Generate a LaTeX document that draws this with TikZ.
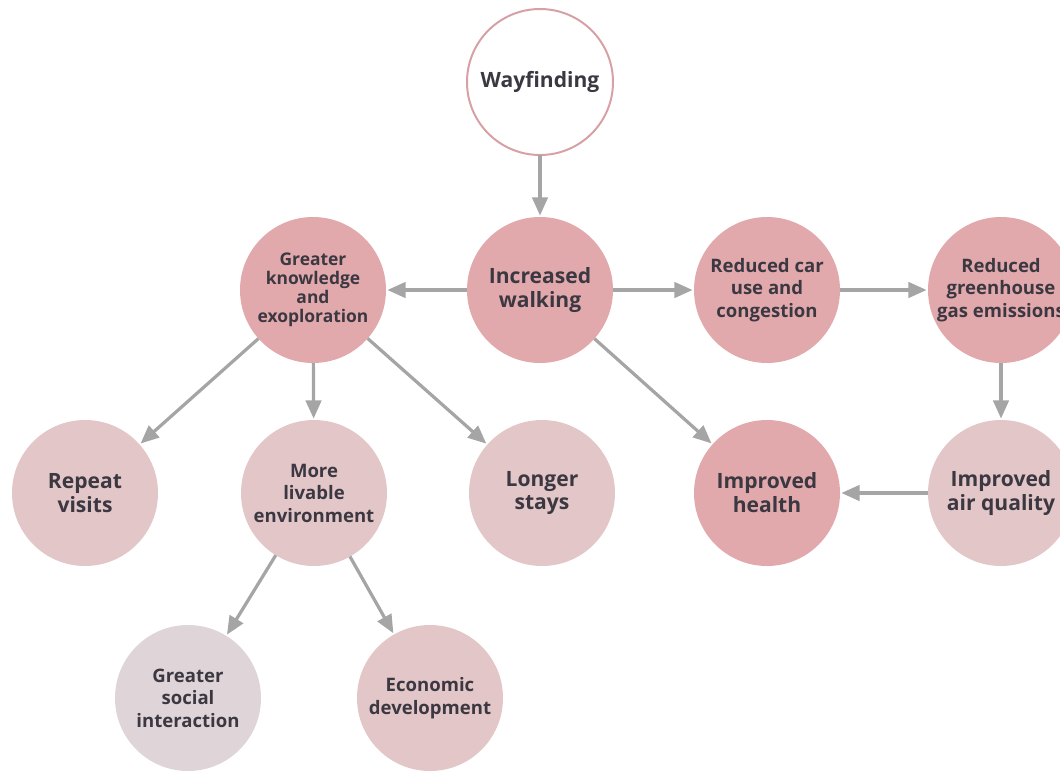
\documentclass[tikz,border=0pt]{standalone}
\usepackage{fontspec}
\setmainfont{Open Sans}
\usepackage{tikz}
\usetikzlibrary{arrows.meta,positioning}
\definecolor{wayred}{RGB}{214,160,164}
\definecolor{walkpink}{RGB}{226,169,172}
\definecolor{lightpink}{RGB}{227,198,200}
\definecolor{socgray}{RGB}{223,213,216}
\definecolor{arrgray}{RGB}{165,165,165}
\definecolor{txtdark}{RGB}{59,56,66}

\begin{document}
\begin{tikzpicture}[
bub/.style={
circle,
minimum size=3.65cm,
inner sep=0pt,
outer sep=0pt,
align=center,
text=txtdark,
font=\bfseries
},
big/.style={font=\fontsize{15}{17}\selectfont\bfseries},
mid/.style={font=\fontsize{13.2}{16}\selectfont\bfseries},
small/.style={font=\fontsize{12.4}{13.4}\selectfont\bfseries},
edge/.style={
-{Triangle[length=13pt,width=11pt]},
line width=2.3pt,
color=arrgray,
shorten >=1pt
}
]

\useasboundingbox (0,0) rectangle (26.5,-19.275);
\clip (0,0) rectangle (26.5,-19.275);

\node[bub,big,draw=wayred,line width=1.4pt,fill=white] (way) at (13.5,-2.05) {Wayfinding};

\node[bub,big,fill=walkpink] (walk) at (13.5,-7.25) {Increased\\walking};
\node[bub,small,fill=walkpink] (know) at (7.825,-7.25) {Greater\\knowledge\\and\\exoploration};
\node[bub,mid,fill=walkpink] (car) at (19.175,-7.25) {Reduced car\\use and\\congestion};
\node[bub,mid,fill=walkpink] (ghg) at (25.025,-7.25) {Reduced\\greenhouse\\gas emissions};

\node[bub,big,fill=lightpink] (rep) at (2.125,-12.325) {Repeat\\visits};
\node[bub,mid,fill=lightpink] (liv) at (7.85,-12.325) {More\\livable\\environment};
\node[bub,big,fill=lightpink] (stay) at (13.55,-12.325) {Longer\\stays};
\node[bub,big,fill=walkpink] (health) at (19.175,-12.325) {Improved\\health};
\node[bub,big,fill=lightpink] (air) at (25.025,-12.325) {Improved\\air quality};

\node[bub,mid,fill=socgray] (soc) at (4.7,-17.45) {Greater\\social\\interaction};
\node[bub,mid,fill=lightpink] (eco) at (10.75,-17.45) {Economic\\development};

\draw[edge] (way) -- (walk);

\draw[edge] (walk) -- (know);

\draw[edge] (walk) -- (car);

\draw[edge] (car) -- (ghg);

\draw[edge] (walk) -- (health);

\draw[edge] (ghg) -- (air);

\draw[edge] (air) -- (health);

\draw[edge] (know) -- (rep);

\draw[edge] (know) -- (liv);

\draw[edge] (know) -- (stay);

\draw[edge] (liv) -- (soc);

\draw[edge] (liv) -- (eco);

\end{tikzpicture}
\end{document}
